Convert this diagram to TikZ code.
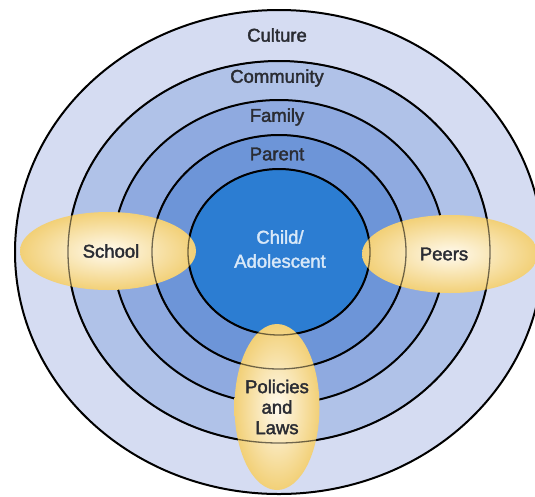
\documentclass[tikz,border=0pt]{standalone}
\usepackage{fontspec}
\setmainfont{Liberation Sans}[FakeBold=2]
\usetikzlibrary{shapes.geometric}
\definecolor{cultureblue}{HTML}{D5DCF2}
\definecolor{communityblue}{HTML}{B0C2E8}
\definecolor{familyblue}{HTML}{8FAAE0}
\definecolor{parentblue}{HTML}{6D95D8}
\definecolor{childblue}{HTML}{2C7DD2}
\definecolor{lobein}{HTML}{FFFAEE}
\definecolor{lobeout}{HTML}{F2D077}
\definecolor{ink}{HTML}{2A2C33}
\definecolor{childtext}{HTML}{D8E8F8}
\tikzset{
  lobe/.style={ellipse, inner sep=0pt, shading=radial, inner color=lobein, outer color=lobeout},
  ringlabel/.style={text=ink, font=\fontsize{18.5}{22}\selectfont, align=center},
}

\begin{document}
\begin{tikzpicture}[x=1pt,y=-1pt]
\useasboundingbox (0,0) rectangle (535,496);
\clip (0,0) rectangle (535,496);
\coordinate (ctr) at (279,252);

\foreach \rx/\ry/\col in {264/242/cultureblue,211/191/communityblue,166/152/familyblue,127/117/parentblue,91/83/childblue}
  \fill[\col] (ctr) ellipse (\rx pt and \ry pt);
\foreach \rx/\ry in {264/242,211/191,166/152,127/117,91/83}
  \draw[line width=2pt] (ctr) ellipse (\rx pt and \ry pt);

\node[lobe, minimum width=176pt, minimum height=78pt] (schoollobe) at (108,251) {};
\node[lobe, minimum width=176pt, minimum height=78pt] (peerslobe) at (450,254) {};
\node[lobe, minimum width=85pt, minimum height=166pt] (lawslobe) at (277,407) {};

% rings that still show through the lobes
\foreach \rx/\ry in {211/191,127/117,91/83}
  \draw[line width=1.3pt, draw opacity=0.55] (ctr) ellipse (\rx pt and \ry pt);

\foreach \name/\y/\txt in {culture/35/Culture,community/78/Community,family/117/Family,parent/154/Parent}
  \node[ringlabel] (\name) at (277,\y) {\txt};

\node[ringlabel, text=childtext, font=\fontsize{18.5}{24}\selectfont] (child) at (280,249) {Child/\\Adolescent};
\node[ringlabel] (school) at (111,251) {School};
\node[ringlabel] (peers) at (444,254) {Peers};
\node[ringlabel, font=\fontsize{18.5}{20.5}\selectfont] (laws) at (277,407) {Policies\\and\\Laws};

\end{tikzpicture}
\end{document}
